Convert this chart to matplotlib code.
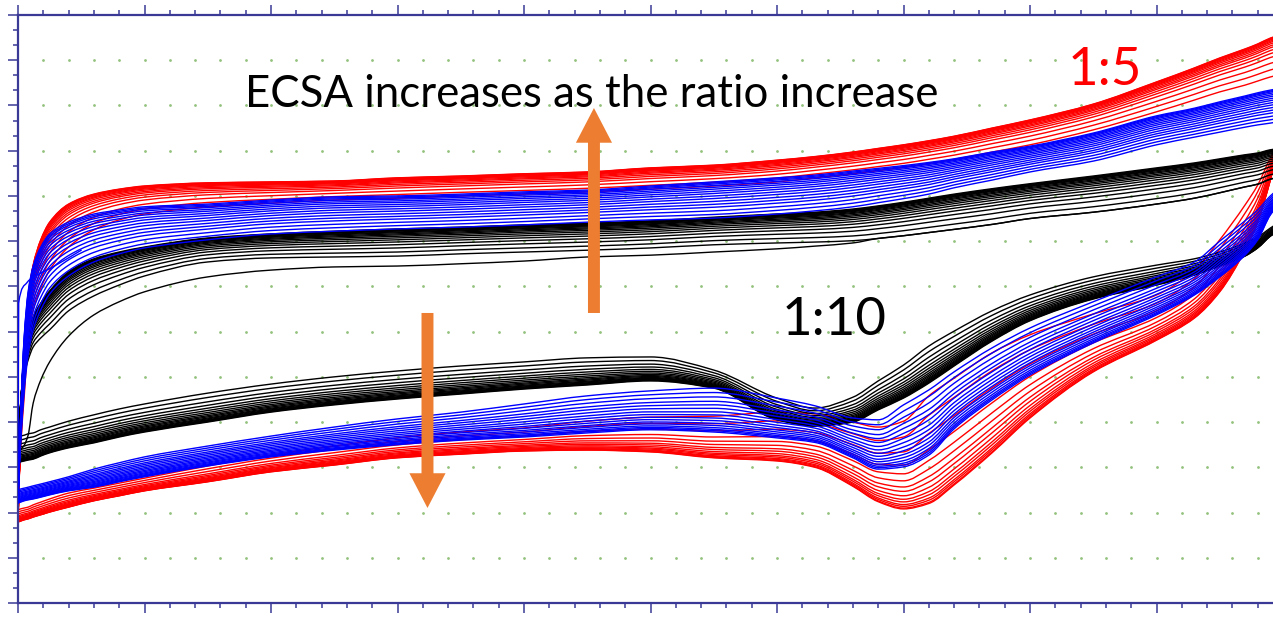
import numpy as np
import matplotlib
matplotlib.use("Agg")
import matplotlib.pyplot as plt
from matplotlib.patches import FancyArrowPatch, PathPatch
from matplotlib.path import Path
from matplotlib.ticker import MultipleLocator

plt.rcParams['font.family'] = ['Lato', 'DejaVu Sans']

# Potential grid (V) shared by every sweep
potential = [0.0, 0.002, 0.005, 0.008, 0.012, 0.018, 0.025, 0.04, 0.06, 0.08,
             0.1, 0.15, 0.2, 0.25, 0.3, 0.35, 0.4, 0.45, 0.5, 0.55,
             0.6, 0.63, 0.66, 0.68, 0.7, 0.72, 0.74, 0.77, 0.8, 0.85,
             0.9, 0.93, 0.95, 0.97, 0.98, 0.99, 1.0]

# ---- 1:10 (black): current in mA, smallest and largest cycle of the band ----
black_anodic_inner = [-3.33, -2.62, -1.96, -1.63, -1.34, -1.14, -0.96, -0.54, -0.21, 0.03,
                      0.23, 0.54, 0.63, 0.65, 0.67, 0.72, 0.76, 0.80, 0.85, 0.92,
                      0.96, 0.98, 1.01, 1.06, 1.12, 1.19, 1.26, 1.37, 1.50, 1.64,
                      1.82, 1.95, 2.07, 2.20, 2.26, 2.37, 2.44]
black_anodic_outer = [-3.90, -2.73, -1.45, -1.05, -0.68, -0.37, -0.10, 0.32, 0.61, 0.76,
                      0.87, 1.07, 1.16, 1.22, 1.27, 1.31, 1.36, 1.40, 1.45, 1.53,
                      1.60, 1.64, 1.71, 1.78, 1.86, 1.95, 2.04, 2.16, 2.27, 2.44,
                      2.62, 2.73, 2.82, 2.91, 2.95, 3.02, 3.06]
black_cathodic_inner = [-3.33, -3.31, -3.29, -3.26, -3.24, -3.17, -3.11, -2.98, -2.84, -2.71,
                        -2.60, -2.36, -2.16, -2.00, -1.87, -1.76, -1.67, -1.58, -1.56, -1.85,
                        -2.47, -2.69, -2.45, -2.09, -1.74, -1.32, -0.99, -0.54, -0.19, 0.21,
                        0.47, 0.61, 0.76, 0.96, 1.09, 1.29, 1.47]
black_cathodic_outer = [-3.90, -3.88, -3.86, -3.84, -3.82, -3.75, -3.68, -3.57, -3.46, -3.33,
                        -3.22, -3.00, -2.78, -2.62, -2.49, -2.38, -2.27, -2.18, -2.09, -2.25,
                        -2.95, -3.09, -3.00, -2.73, -2.47, -2.14, -1.76, -1.21, -0.76, -0.28,
                        0.03, 0.25, 0.45, 0.67, 0.85, 1.11, 1.29]
black_first_anodic = [-3.73, -3.62, -3.51, -3.29, -2.58, -2.07, -1.67, -1.10, -0.63, -0.34,
                      -0.12, 0.21, 0.36, 0.43, 0.45, 0.50, 0.56, 0.65, 0.69, 0.76,
                      0.83, 0.89, 0.96, 1.06, 1.12, 1.19, 1.26, 1.37, 1.50, 1.64,
                      1.82, 1.95, 2.07, 2.20, 2.26, 2.37, 2.44]
black_cycle_pos = [0.0, 0.15, 0.3, 0.42, 0.52, 0.6, 0.67, 0.73, 0.78, 0.82,
                   0.86, 0.89, 0.92, 0.94, 0.96, 0.98, 1.0]

# ---- intermediate ratio (blue) ----
blue_anodic_inner = [-4.50, -3.51, -2.29, -1.52, -0.96, -0.52, -0.17, 0.23, 0.54, 0.72,
                     0.85, 1.03, 1.16, 1.22, 1.27, 1.31, 1.36, 1.42, 1.47, 1.51,
                     1.60, 1.67, 1.76, 1.85, 1.94, 2.04, 2.18, 2.35, 2.53, 2.77,
                     3.13, 3.30, 3.41, 3.52, 3.57, 3.61, 3.66]
blue_anodic_outer = [-4.79, -2.95, -1.07, -0.12, 0.45, 0.87, 1.16, 1.42, 1.60, 1.69,
                     1.76, 1.82, 1.91, 1.98, 2.00, 2.04, 2.09, 2.13, 2.22, 2.31,
                     2.40, 2.46, 2.55, 2.61, 2.67, 2.74, 2.82, 2.97, 3.10, 3.39,
                     3.77, 3.94, 4.08, 4.21, 4.28, 4.34, 4.39]
blue_cathodic_inner = [-4.50, -4.48, -4.46, -4.44, -4.41, -4.37, -4.32, -4.21, -4.04, -3.90,
                       -3.77, -3.53, -3.31, -3.11, -2.93, -2.78, -2.60, -2.42, -2.31, -2.25,
                       -2.47, -2.64, -2.91, -2.95, -2.62, -2.29, -1.89, -1.36, -0.92, -0.34,
                       0.21, 0.54, 1.00, 1.45, 1.69, 2.00, 2.24]
blue_cathodic_outer = [-4.79, -4.77, -4.74, -4.72, -4.70, -4.66, -4.61, -4.52, -4.44, -4.32,
                       -4.21, -3.97, -3.77, -3.62, -3.50, -3.40, -3.33, -3.24, -3.17, -3.22,
                       -3.35, -3.45, -3.79, -4.04, -3.99, -3.73, -3.15, -2.51, -1.96, -1.25,
                       -0.63, -0.19, 0.21, 0.69, 1.03, 1.58, 1.91]
blue_first_potential = [0.0, 0.0005, 0.007, 0.012, 0.02, 0.03, 0.05]
blue_first_current = [-4.72, -0.37, 0.08, 0.21, 0.32, 0.47, 0.80]
blue_cycle_pos = [0.0, 0.1, 0.2, 0.3, 0.38, 0.46, 0.54, 0.61, 0.68, 0.74,
                  0.8, 0.85, 0.9, 0.94, 0.97, 1.0]

# ---- 1:5 (red) ----
red_anodic_inner = [-4.94, -3.62, -2.40, -1.30, -0.52, -0.04, 0.36, 0.87, 1.25, 1.47,
                    1.60, 1.76, 1.84, 1.91, 1.95, 2.00, 2.04, 2.09, 2.15, 2.22,
                    2.31, 2.40, 2.49, 2.56, 2.63, 2.72, 2.81, 2.97, 3.13, 3.46,
                    3.86, 4.12, 4.30, 4.45, 4.54, 4.63, 4.70]
red_anodic_outer = [-5.21, -3.17, -1.30, -0.26, 0.47, 1.03, 1.42, 1.82, 2.04, 2.15,
                    2.22, 2.29, 2.31, 2.33, 2.40, 2.44, 2.49, 2.53, 2.62, 2.68,
                    2.79, 2.87, 2.97, 3.05, 3.13, 3.22, 3.32, 3.50, 3.68, 4.03,
                    4.52, 4.83, 5.05, 5.25, 5.36, 5.49, 5.58]
red_cathodic_inner = [-4.94, -4.92, -4.90, -4.88, -4.83, -4.77, -4.70, -4.57, -4.46, -4.35,
                      -4.24, -3.97, -3.73, -3.53, -3.35, -3.22, -3.13, -2.98, -2.89, -2.87,
                      -2.78, -2.82, -3.00, -3.11, -2.98, -2.42, -2.03, -1.47, -1.07, -0.61,
                      -0.19, 0.36, 1.03, 1.80, 2.24, 2.84, 3.35]
red_cathodic_outer = [-5.21, -5.19, -5.16, -5.14, -5.10, -5.05, -4.99, -4.88, -4.74, -4.63,
                      -4.52, -4.32, -4.10, -3.95, -3.79, -3.71, -3.64, -3.62, -3.66, -3.79,
                      -3.86, -4.00, -4.42, -4.76, -4.92, -4.80, -4.39, -3.68, -2.91, -1.89,
                      -1.19, -0.70, -0.12, 0.80, 1.42, 2.35, 3.46]
red_cycle_pos = [0.0, 0.18, 0.35, 0.5, 0.6, 0.68, 0.75, 0.8, 0.85, 0.89,
                 0.92, 0.95, 0.97, 0.99, 1.0]

BLACK, BLUE, RED = '#000000', '#0000ff', '#ff0000'
FRAME = '#3a3a96'
ARROW = '#ED7D31'
DOT = '#93c27c'
LW = 1.0


def hermite_slopes(x, y):
    """Shape-preserving (Fritsch-Carlson) tangents for a smooth trace."""
    h = np.diff(x)
    d = np.diff(y) / h
    m = np.zeros_like(y)
    m[0], m[-1] = d[0], d[-1]
    for k in range(1, len(y) - 1):
        if d[k - 1] * d[k] > 0:
            w1 = 2 * h[k] + h[k - 1]
            w2 = h[k] + 2 * h[k - 1]
            m[k] = (w1 + w2) / (w1 / d[k - 1] + w2 / d[k])
    return m


def trace(ax, x, y, color, z):
    """Draw a sweep as a chain of cubic Bezier segments through its points."""
    x = np.asarray(x, dtype=float)
    y = np.asarray(y, dtype=float)
    m = hermite_slopes(x, y)
    verts = [(x[0], y[0])]
    codes = [Path.MOVETO]
    for k in range(len(x) - 1):
        h = x[k + 1] - x[k]
        verts += [(x[k] + h / 3, y[k] + m[k] * h / 3),
                  (x[k + 1] - h / 3, y[k + 1] - m[k + 1] * h / 3),
                  (x[k + 1], y[k + 1])]
        codes += [Path.CURVE4] * 3
    ax.add_patch(PathPatch(Path(verts, codes), fill=False, edgecolor=color,
                           lw=LW, zorder=z, capstyle='round', joinstyle='round'))


def draw_group(ax, a_in, a_out, c_in, c_out, positions, color, z):
    a_in, a_out = np.asarray(a_in), np.asarray(a_out)
    c_in, c_out = np.asarray(c_in), np.asarray(c_out)
    for p in positions:
        trace(ax, potential, a_in + p * (a_out - a_in), color, z)
        trace(ax, potential, c_in + p * (c_out - c_in), color, z)


fig = plt.figure(figsize=(12.73, 6.18), dpi=100)
ax = fig.add_axes([18 / 1273, 15 / 618, 1265 / 1273, 588 / 618])
ax.set_xlim(0.0, 1.0)
ax.set_ylim(-7.0, 6.0)

# dotted grid: one dot at each minor potential step and each major current step
gx = np.arange(1, 50) * 0.02
gy = np.arange(-6, 6)
GX, GY = np.meshgrid(gx, gy)
ax.plot(GX.ravel(), GY.ravel(), 'o', ms=2.0, mec='none', mfc=DOT, zorder=1)

draw_group(ax, red_anodic_inner, red_anodic_outer, red_cathodic_inner,
           red_cathodic_outer, red_cycle_pos, RED, 2)
draw_group(ax, black_anodic_inner, black_anodic_outer, black_cathodic_inner,
           black_cathodic_outer, black_cycle_pos, BLACK, 3)
trace(ax, potential, black_first_anodic, BLACK, 3)
draw_group(ax, blue_anodic_inner, blue_anodic_outer, blue_cathodic_inner,
           blue_cathodic_outer, blue_cycle_pos, BLUE, 4)
trace(ax, blue_first_potential, blue_first_current, BLUE, 4)

# frame and ticks
ax.xaxis.set_major_locator(MultipleLocator(0.1))
ax.xaxis.set_minor_locator(MultipleLocator(0.02))
ax.yaxis.set_major_locator(MultipleLocator(1.0))
ax.yaxis.set_minor_locator(MultipleLocator(1.0 / 3))
for s in ax.spines.values():
    s.set_color(FRAME)
    s.set_linewidth(1.6)
ax.tick_params(which='both', direction='out', colors=FRAME, top=True, bottom=True,
               left=True, right=False, labelbottom=False, labelleft=False)
ax.tick_params(which='major', length=7.5, width=1.1)
ax.tick_params(which='minor', length=3.5, width=1.1)

# annotations
ax.text(0.1794, 3.96, "ECSA increases as the ratio increase", fontsize=31.5,
        color='black', ha='left', va='baseline', zorder=6)
ax.text(0.830, 4.45, "1:5", fontsize=38, color=RED, ha='left', va='baseline', zorder=6)
ax.text(0.604, -1.07, "1:10", fontsize=38, color='black', ha='left', va='baseline', zorder=6)

style = "Simple, head_length=25, head_width=26, tail_width=8.6"
for x0, y_tail, y_tip in [(0.4553, -0.588, 3.944), (0.3237, -0.588, -4.899)]:
    ax.add_patch(FancyArrowPatch((x0, y_tail), (x0, y_tip), arrowstyle=style,
                                 mutation_scale=1, color=ARROW, shrinkA=0, shrinkB=0,
                                 zorder=7, lw=0))

fig.savefig("out.png", dpi=100)
